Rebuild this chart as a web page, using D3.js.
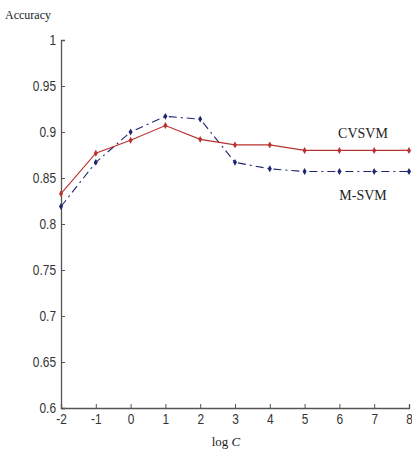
<!DOCTYPE html>
<html><head><meta charset="utf-8">
<script src="https://d3js.org/d3.v7.min.js"></script>
<style>body{margin:0;background:#fff}</style>
</head><body>
<svg id="c" width="412" height="455"></svg>
<script>
const logC = [-2,-1,0,1,2,3,4,5,6,7,8];
const cvsvm = [0.833,0.877,0.891,0.907,0.892,0.886,0.886,0.880,0.880,0.880,0.880];
const msvm  = [0.819,0.867,0.900,0.917,0.914,0.867,0.860,0.857,0.857,0.857,0.857];
const yTicks = [0.6,0.65,0.7,0.75,0.8,0.85,0.9,0.95,1];
const xTicks = [-2,-1,0,1,2,3,4,5,6,7,8];

const svg = d3.select("#c");
const x = d3.scaleLinear().domain([-2,8]).range([61,409]);
const y = d3.scaleLinear().domain([0.6,1]).range([408,40]);
const tickFont = "'Liberation Sans Narrow','Liberation Sans',Arial,sans-serif";
const serif = "'Liberation Serif','DejaVu Serif',serif";
const axisCol = "#555";

// y axis
const ya = svg.append("g").attr("transform","translate(61,0)")
  .call(d3.axisLeft(y).tickValues(yTicks).tickSize(-4).tickPadding(4)
    .tickFormat(d => String(+d.toFixed(2))));
ya.select(".domain").attr("stroke",axisCol).attr("stroke-width",1.3);
ya.selectAll(".tick line").attr("stroke",axisCol);
ya.selectAll("text").attr("font-family",tickFont).attr("font-size",14).attr("fill","#333")
  .attr("transform","scale(0.85,1)").attr("x",-5/0.85);

// x axis
const xa = svg.append("g").attr("transform","translate(0,408)")
  .call(d3.axisBottom(x).tickValues(xTicks).tickSize(-4).tickPadding(6)
    .tickFormat(d => String(d)));
xa.select(".domain").attr("stroke",axisCol).attr("stroke-width",1.3);
xa.selectAll(".tick line").attr("stroke",axisCol);
xa.selectAll("text").attr("font-family",tickFont).attr("font-size",14).attr("fill","#333")
  .attr("transform","scale(0.85,1)");

const line = d3.line().x((d,i)=>x(logC[i])).y(d=>y(d));

const red = "#b8322f", blue = "#1f2470";
svg.append("path").datum(msvm).attr("d",line).attr("fill","none")
  .attr("stroke",blue).attr("stroke-width",1.1).attr("stroke-dasharray","8,4,2,4");
svg.append("path").datum(cvsvm).attr("d",line).attr("fill","none")
  .attr("stroke",red).attr("stroke-width",1.1);

const diamond = d3.symbol().type(d3.symbolDiamond).size(14);
svg.selectAll(".mb").data(msvm).join("path").attr("class","mb")
  .attr("transform",(d,i)=>`translate(${x(logC[i])},${y(d)})`).attr("d",diamond).attr("fill",blue);
svg.selectAll(".mr").data(cvsvm).join("path").attr("class","mr")
  .attr("transform",(d,i)=>`translate(${x(logC[i])},${y(d)})`).attr("d",diamond).attr("fill",red);

// labels
svg.append("text").attr("x",5).attr("y",19).text("Accuracy")
  .attr("font-family",serif).attr("font-size",12).attr("fill","#222");
svg.append("text").attr("x",226).attr("y",446).attr("text-anchor","middle")
  .attr("font-family",serif).attr("font-size",13).attr("fill","#222")
  .html('log <tspan font-style="italic">C</tspan>');
svg.append("text").attr("x",363).attr("y",138).attr("text-anchor","middle").text("CVSVM")
  .attr("font-family",serif).attr("font-size",14).attr("fill","#222");
svg.append("text").attr("x",363).attr("y",200).attr("text-anchor","middle").text("M-SVM")
  .attr("font-family",serif).attr("font-size",14).attr("fill","#222");
</script>
</body></html>
